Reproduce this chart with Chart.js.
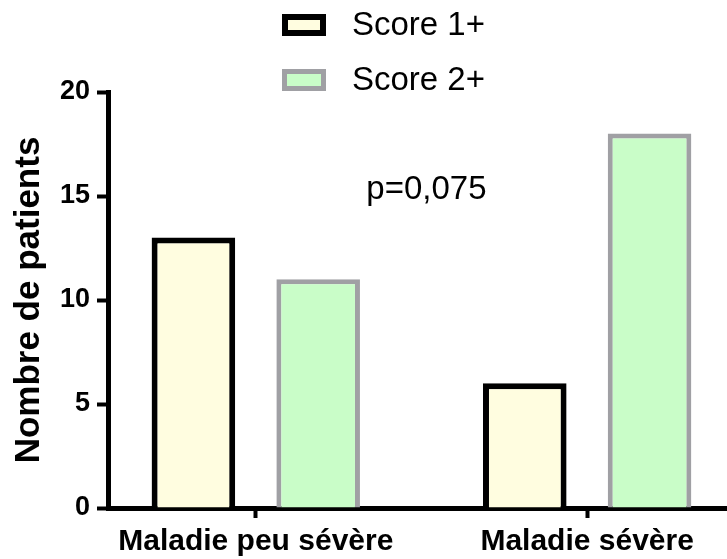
<!DOCTYPE html>
<html>
<head>
<meta charset="utf-8">
<title>Nombre de patients</title>
<script src="https://cdn.jsdelivr.net/npm/chart.js@4"></script>
<style>
  html, body { margin: 0; padding: 0; background: #fff; }
  #wrap { width: 727px; height: 559px; }
</style>
</head>
<body>
<div id="wrap"><canvas id="barChart"></canvas></div>
<script>
const categories = ["Maladie peu sévère", "Maladie sévère"];
const score1 = [13, 6];
const score2 = [11, 18];
const yTicks = [0, 5, 10, 15, 20];
const seriesNames = ["Score 1+", "Score 2+"];
// p-value note, placed in data units
const pText = "p=0,075";
const pPos = { x: 0.515, y: 15.3 };

const FONT = '"Liberation Sans", Arial, sans-serif';

// legend stacked in two rows above the plot
const stackedLegend = {
  id: "stackedLegend",
  afterDraw(chart) {
    const ctx = chart.ctx;
    ctx.save();
    chart.data.datasets.forEach(function (ds, i) {
      const x = 282, y = 14 + i * 55, w = 44, h = 22;
      const bw = ds.borderWidth;
      ctx.fillStyle = ds.borderColor;
      ctx.fillRect(x, y, w, h);
      ctx.fillStyle = ds.backgroundColor;
      ctx.fillRect(x + bw, y + bw, w - 2 * bw, h - 2 * bw);
      ctx.fillStyle = "#000";
      ctx.font = "33px " + FONT;
      ctx.textAlign = "left";
      ctx.textBaseline = "middle";
      ctx.fillText(ds.label, 352, y + h / 2 + 1);
    });
    ctx.restore();
  }
};

const pNote = {
  id: "pNote",
  afterDraw(chart) {
    const ctx = chart.ctx;
    ctx.save();
    ctx.fillStyle = "#000";
    ctx.font = "33px " + FONT;
    ctx.textAlign = "center";
    ctx.textBaseline = "middle";
    ctx.fillText(pText, chart.scales.x.getPixelForValue(pPos.x), chart.scales.y.getPixelForValue(pPos.y));
    ctx.restore();
  }
};

const ctx = document.getElementById("barChart").getContext("2d");

new Chart(ctx, {
  type: "bar",
  data: {
    datasets: [
      {
        label: seriesNames[0],
        data: score1.map(function (v, i) { return { x: i, y: v }; }),
        backgroundColor: "#FFFDE0",
        borderColor: "#000000",
        borderWidth: 6,
        categoryPercentage: 0.753,
        barPercentage: 0.67
      },
      {
        label: seriesNames[1],
        data: score2.map(function (v, i) { return { x: i, y: v }; }),
        backgroundColor: "#C9FDC8",
        borderColor: "#A0A0A4",
        borderWidth: 5,
        categoryPercentage: 0.753,
        barPercentage: 0.67
      }
    ]
  },
  options: {
    responsive: true,
    maintainAspectRatio: false,
    animation: false,
    layout: { padding: { top: 92, left: 0, right: 0, bottom: 0 } },
    plugins: {
      legend: { display: false },
      tooltip: { enabled: false }
    },
    scales: {
      x: {
        type: "linear",
        min: -0.446,
        max: 1.422,
        offset: false,
        afterBuildTicks: function (scale) {
          scale.ticks = categories.map(function (c, i) { return { value: i }; });
        },
        afterFit: function (scale) { scale.height = 51; },
        ticks: {
          autoSkip: false,
          maxRotation: 0,
          padding: 6,
          color: "#000",
          font: { family: FONT, size: 30, weight: "bold" },
          callback: function (value) { return categories[value]; }
        },
        grid: {
          offset: false,
          drawOnChartArea: false,
          drawTicks: true,
          tickLength: 10,
          tickWidth: 4,
          tickColor: "#000"
        },
        border: { display: true, color: "#000", width: 5 }
      },
      y: {
        min: 0,
        max: 20,
        afterBuildTicks: function (scale) {
          scale.ticks = yTicks.map(function (v) { return { value: v }; });
        },
        afterFit: function (scale) { scale.width = 108; },
        ticks: {
          padding: 7,
          color: "#000",
          font: { family: FONT, size: 27, weight: "bold" }
        },
        grid: {
          drawOnChartArea: false,
          drawTicks: true,
          tickLength: 11,
          tickWidth: 4,
          tickColor: "#000"
        },
        border: { display: true, color: "#000", width: 5 },
        title: {
          display: true,
          text: "Nombre de patients",
          color: "#000",
          padding: { top: 8, bottom: 0 },
          font: { family: FONT, size: 35, weight: "bold" }
        }
      }
    }
  },
  plugins: [stackedLegend, pNote]
});
</script>
</body>
</html>
